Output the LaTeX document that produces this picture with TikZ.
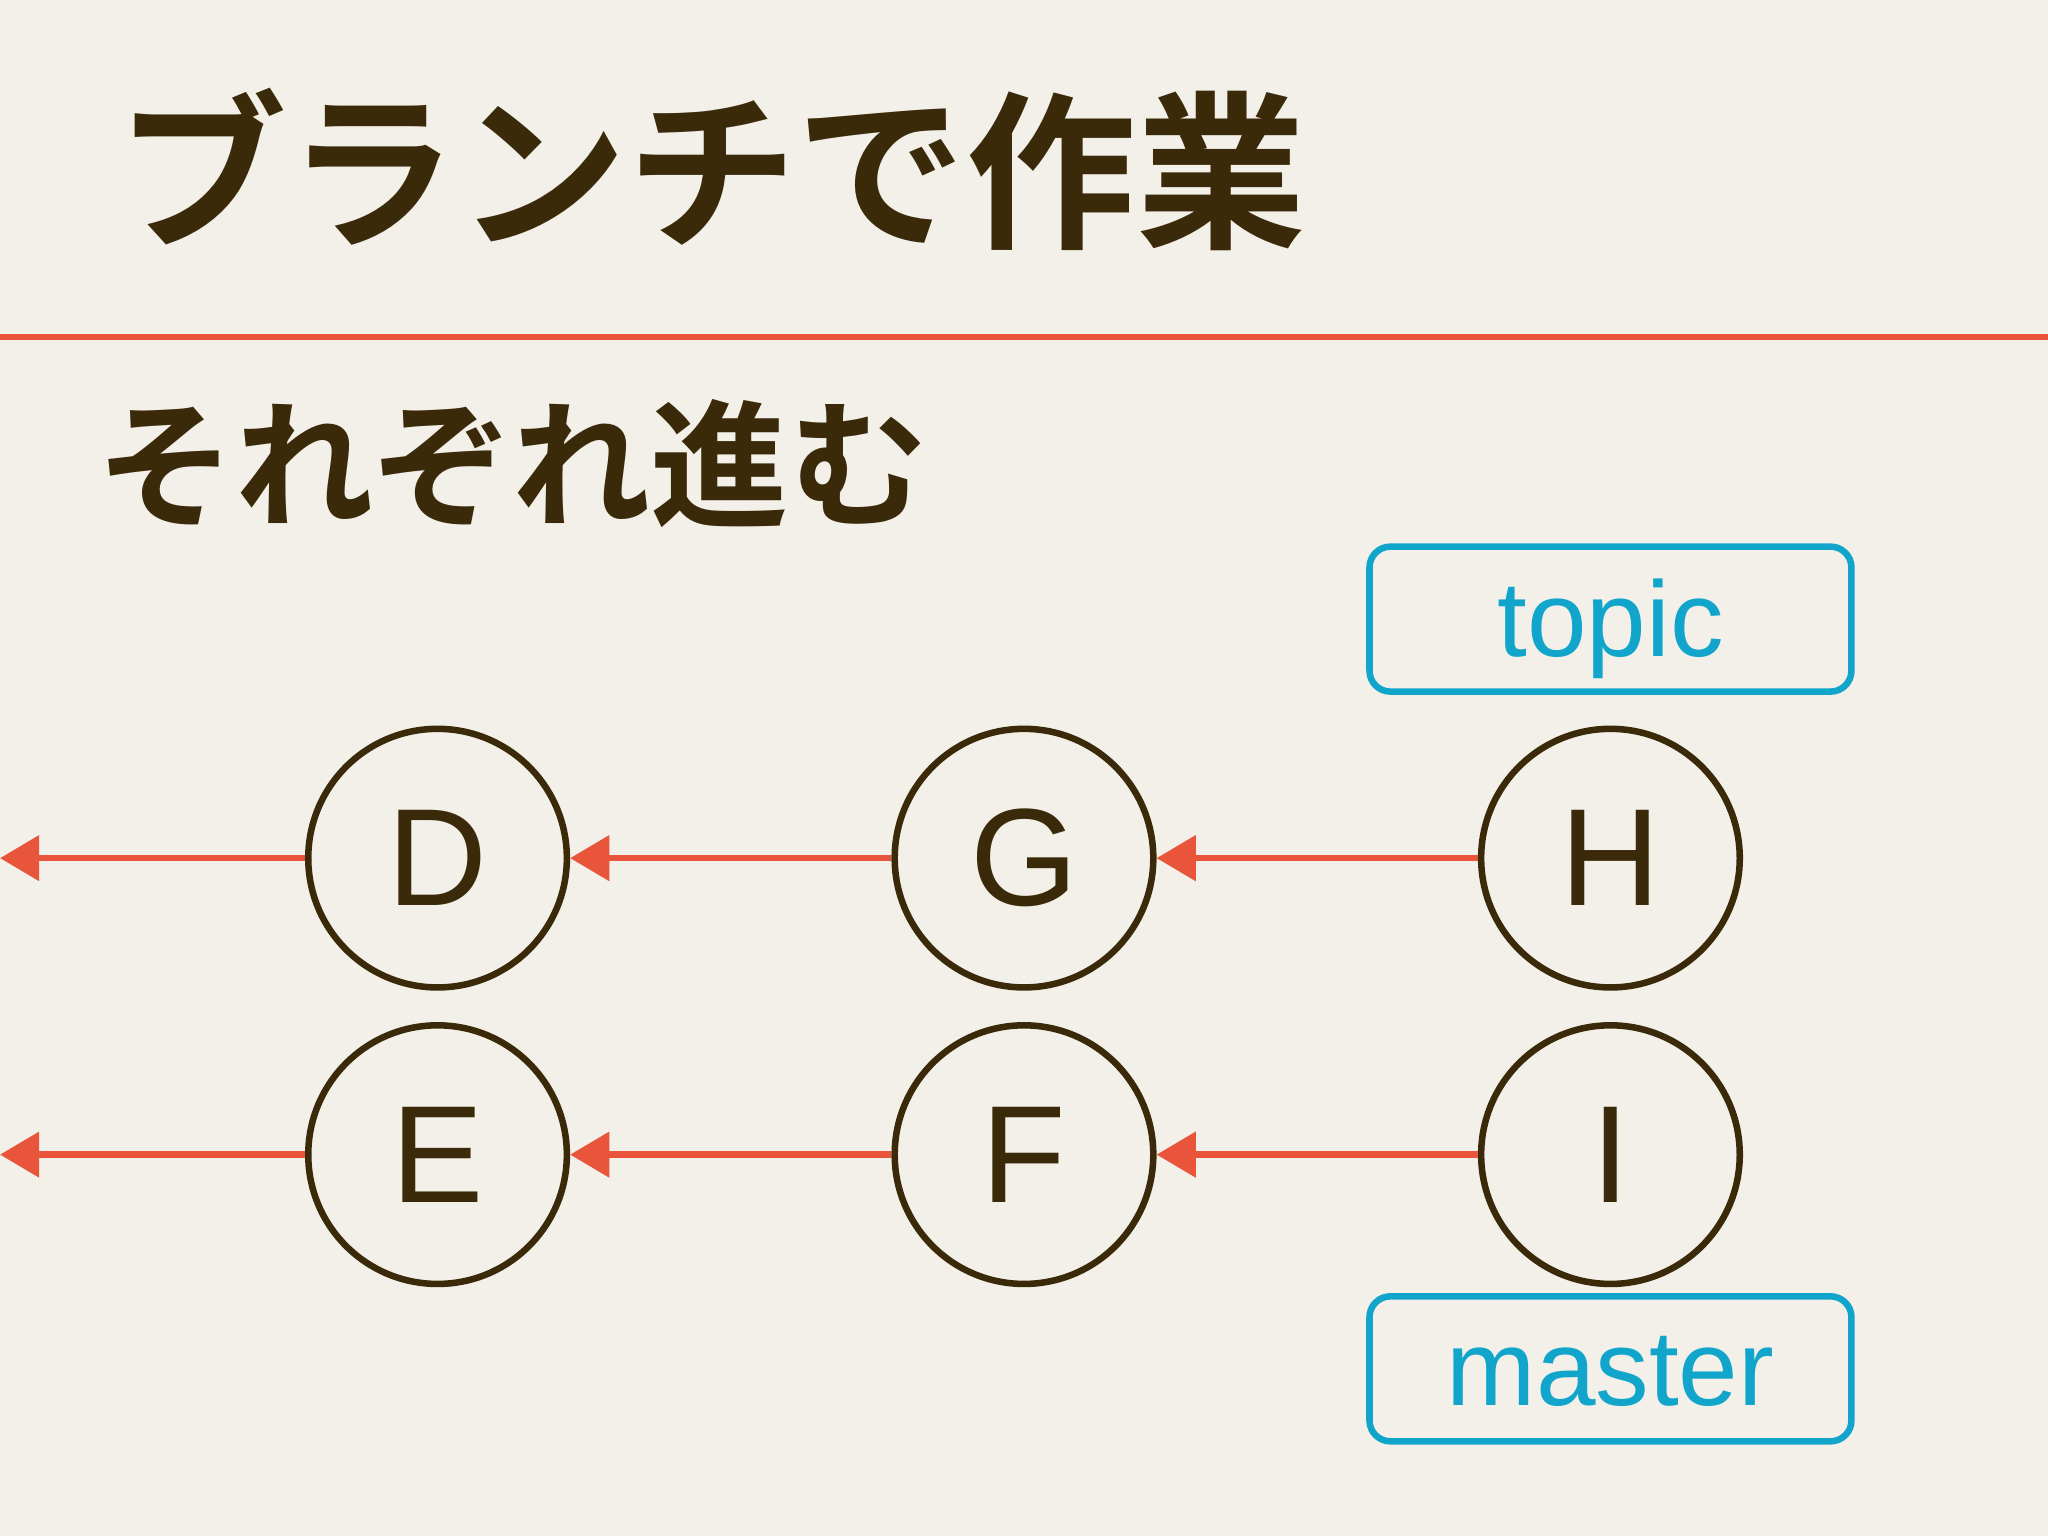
\documentclass[tikz,border=0pt]{standalone}
\usepackage{fontspec}
\setmainfont{Liberation Sans}
\newfontfamily\jp{Noto Sans CJK JP Bold}
\usetikzlibrary{arrows.meta}
\definecolor{bg}{HTML}{F2F0E8}
\definecolor{ink}{HTML}{3B2A0A}
\definecolor{rd}{HTML}{E8553A}
\definecolor{cy}{HTML}{12A5CC}
\tikzset{
 commit/.style={circle,draw=ink,line width=5pt,minimum size=198pt,inner sep=0pt,text=ink,font=\fontsize{106}{106}\selectfont},
 link/.style={rd,line width=5pt,-{Triangle[length=30pt,width=34pt]}},
 branch/.style={draw=cy,line width=5pt,rounded corners=16pt,minimum width=369pt,minimum height=111pt,text=cy,font=\fontsize{82}{82}\selectfont},
 lbl/.style={text=cy,font=\fontsize{82}{82}\selectfont,inner sep=0pt}
}
\begin{document}
\begin{tikzpicture}[x=1pt,y=-1pt]
\fill[bg] (0,0) rectangle (1568,1176);
\useasboundingbox (0,0) rectangle (1568,1176);
\node[anchor=west,text=ink,inner sep=0pt] (title) at (90,130) {\jp\fontsize{130}{130}\selectfont ブランチで作業};
\draw[rd,line width=4pt] (0,258) -- (1568,258);
\node[anchor=west,text=ink,inner sep=0pt] (sub) at (74,355) {\jp\fontsize{106}{106}\selectfont それぞれ進む};
\node[commit] (D) at (335,657) {D};
\node[commit] (G) at (784,657) {G};
\node[commit] (H) at (1233,657) {H};
\node[commit] (E) at (335,884) {E};
\node[commit] (F) at (784,884) {F};
\node[commit] (I) at (1233,884) {I};
\coordinate (d0) at (0,657);
\coordinate (e0) at (0,884);
\draw[link] (H) -- (G);
\draw[link] (G) -- (D);
\draw[link] (D) -- (d0);
\draw[link] (I) -- (F);
\draw[link] (F) -- (E);
\draw[link] (E) -- (e0);
\node[branch] (topic) at (1233,474) {};
\node[lbl,anchor=base] (topict) at (1233,503) {topic};
\node[branch] (master) at (1233,1048) {};
\node[lbl,anchor=base] (mastert) at (1233,1076) {master};
\end{tikzpicture}
\end{document}
